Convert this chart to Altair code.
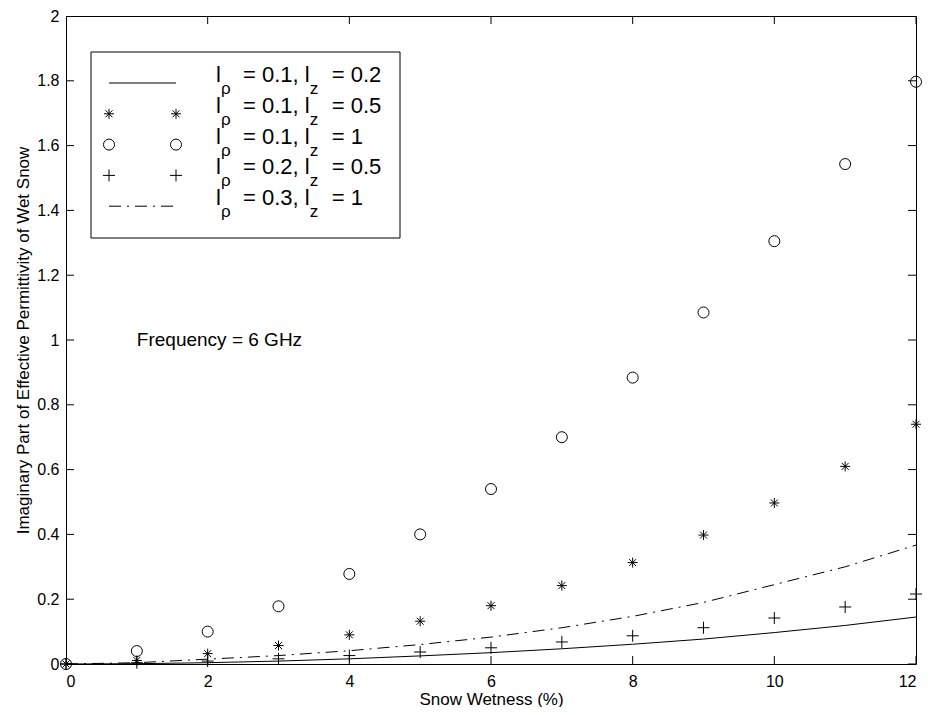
import altair as alt
import pandas as pd

# ---------------- data ----------------
wetness = [0, 1, 2, 3, 4, 5, 6, 7, 8, 9, 10, 11, 12]
eps_rho01_lz02 = [0, 0.001, 0.004, 0.009, 0.016, 0.025, 0.035, 0.047, 0.061, 0.077, 0.097, 0.119, 0.145]
eps_rho01_lz05 = [0, 0.011, 0.032, 0.057, 0.090, 0.132, 0.180, 0.242, 0.313, 0.398, 0.497, 0.610, 0.740]
eps_rho01_lz1 = [0, 0.040, 0.100, 0.178, 0.278, 0.400, 0.540, 0.700, 0.884, 1.085, 1.305, 1.543, 1.797]
eps_rho02_lz05 = [0, 0.004, 0.009, 0.016, 0.026, 0.037, 0.050, 0.068, 0.087, 0.112, 0.142, 0.176, 0.216]
eps_rho03_lz1 = [0, 0.004, 0.015, 0.026, 0.041, 0.060, 0.083, 0.112, 0.147, 0.190, 0.245, 0.300, 0.367]

x_ticks = [0, 2, 4, 6, 8, 10, 12]
y_ticks = [0, 0.2, 0.4, 0.6, 0.8, 1, 1.2, 1.4, 1.6, 1.8, 2]
l_rho = ["0.1", "0.1", "0.1", "0.2", "0.3"]
l_z = ["0.2", "0.5", "1", "0.5", "1"]
annotation = "Frequency = 6 GHz"
annotation_at = (1, 1)
x_title = "Snow Wetness (%)"
y_title = "Imaginary Part of Effective Permittivity of Wet Snow"

# ---------------- style ----------------
FONT = "Liberation Sans"
W, H = 850, 648
TICK_LEN = 8
STAR = "M-1,0L1,0M0,-1L0,1M-0.7,-0.7L0.7,0.7M-0.7,0.7L0.7,-0.7"
PLUS = "M-1,0L1,0M0,-1L0,1"
DASHDOT = [12, 6, 2, 6]

xs = alt.Scale(domain=[0, 12], nice=False, zero=False)
ys = alt.Scale(domain=[0, 2], nice=False, zero=False)
x_axis = alt.Axis(values=x_ticks, title=x_title, grid=False, ticks=False, tickSize=0,
                  domain=False, labelFont=FONT, labelFontSize=16, labelPadding=9,
                  labelColor="black", titleFont=FONT, titleFontSize=17,
                  titleFontWeight="normal", titleColor="black",
                  titleBaseline="alphabetic", titleY=40, titleX=W / 2, titleAlign="center")
y_axis = alt.Axis(values=y_ticks, title=y_title, grid=False, ticks=False, tickSize=0,
                  domain=False, labelFont=FONT, labelFontSize=16, labelPadding=7,
                  labelColor="black", titleFont=FONT, titleFontSize=17,
                  titleFontWeight="normal", titleColor="black",
                  titleBaseline="alphabetic", titleAngle=270, titleX=-38, titleY=H / 2,
                  titleAlign="center", format="~g")

df = pd.DataFrame({
    "x": wetness,
    "a": eps_rho01_lz02,
    "b": eps_rho01_lz05,
    "c": eps_rho01_lz1,
    "d": eps_rho02_lz05,
    "e": eps_rho03_lz1,
})


def X(field="x"):
    return alt.X(f"{field}:Q", scale=xs, axis=x_axis)


def Y(field):
    return alt.Y(f"{field}:Q", scale=ys, axis=y_axis)


base = alt.Chart(df)
line_a = base.mark_line(color="black", strokeWidth=1).encode(x=X(), y=Y("a"))
line_e = base.mark_line(color="black", strokeWidth=1, strokeDash=DASHDOT).encode(x=X(), y=Y("e"))
pts_b = base.mark_point(shape=STAR, size=100, filled=False, stroke="black",
                        strokeWidth=1, opacity=1).encode(x=X(), y=Y("b"))
pts_c = base.mark_point(shape="circle", size=121, filled=False, stroke="black",
                        strokeWidth=1, opacity=1).encode(x=X(), y=Y("c"))
pts_d = base.mark_point(shape=PLUS, size=144, filled=False, stroke="black",
                        strokeWidth=1, opacity=1).encode(x=X(), y=Y("d"))

# inward ticks on all four sides
xt = pd.DataFrame([{"tx": v, "ty": e} for v in x_ticks for e in (0, 2)])
yt = pd.DataFrame([{"tx": e, "ty": v} for v in y_ticks for e in (0, 12)])
ticks_x = alt.Chart(xt).mark_tick(orient="vertical", size=2 * TICK_LEN, thickness=1,
                                  color="black", opacity=1, clip=True).encode(
    x=alt.X("tx:Q", scale=xs, axis=x_axis), y=alt.Y("ty:Q", scale=ys, axis=y_axis))
ticks_y = alt.Chart(yt).mark_tick(orient="horizontal", size=2 * TICK_LEN, thickness=1,
                                  color="black", opacity=1, clip=True).encode(
    x=alt.X("tx:Q", scale=xs, axis=x_axis), y=alt.Y("ty:Q", scale=ys, axis=y_axis))

ann = alt.Chart(pd.DataFrame({"x": [annotation_at[0]], "y": [annotation_at[1]],
                              "t": [annotation]})).mark_text(
    align="left", baseline="middle", font=FONT, fontSize=19, color="black").encode(
    x=X(), y=Y("y"), text="t:N")

data_layers = alt.layer(ticks_x, ticks_y, line_a, line_e, pts_b, pts_c, pts_d, ann)

# ---------------- legend (pixel layout inside the plot area) ----------------
AW = {" ": 278, "=": 584, ".": 278, ",": 278, "l": 222, "z": 500}


def tw(s, fs):
    return sum(AW.get(c, 556) for c in s) * fs / 1000.0


LFS = 22
SFS = 17
GAP = 27
box = dict(x0=25, y0=36, x1=334, y1=222)
row_y0, row_dy = 66, 30.8
samp_x0, samp_x1 = 43, 110
text_x = 150

main_rows, sub_rows = [], []
for i in range(5):
    yb = row_y0 + row_dy * i
    p2 = f"= {l_rho[i]}, l"
    p3 = f"= {l_z[i]}"
    x2 = text_x + GAP
    x2_end = x2 + tw(p2, LFS)
    l2 = x2_end - tw("l", LFS)
    x3 = l2 + GAP
    main_rows += [{"px": text_x, "py": yb, "t": "l"},
                  {"px": x2, "py": yb, "t": p2},
                  {"px": x3, "py": yb, "t": p3}]
    sub_rows += [{"px": text_x + 5, "py": yb + 12, "t": "ρ"},
                 {"px": l2 + 5, "py": yb + 12, "t": "z"}]

PX = lambda f: alt.X(f"{f}:Q", scale=None, axis=None)
PY = lambda f: alt.Y(f"{f}:Q", scale=None, axis=None)

leg_box = alt.Chart(pd.DataFrame([box])).mark_rect(
    fill="white", stroke="black", strokeWidth=1).encode(
    x=PX("x0"), x2="x1:Q", y=PY("y0"), y2="y1:Q")
leg_main = alt.Chart(pd.DataFrame(main_rows)).mark_text(
    align="left", baseline="alphabetic", font=FONT, fontSize=LFS, color="black").encode(
    x=PX("px"), y=PY("py"), text="t:N")
leg_sub = alt.Chart(pd.DataFrame(sub_rows)).mark_text(
    align="left", baseline="alphabetic", font=FONT, fontSize=SFS, color="black").encode(
    x=PX("px"), y=PY("py"), text="t:N")


def samp(i):
    yy = row_y0 + row_dy * i + 1
    return pd.DataFrame({"px": [samp_x0, samp_x1], "py": [yy, yy]})


leg_l0 = alt.Chart(samp(0)).mark_line(color="black", strokeWidth=1).encode(x=PX("px"), y=PY("py"))
leg_l4 = alt.Chart(samp(4)).mark_line(color="black", strokeWidth=1, strokeDash=DASHDOT).encode(
    x=PX("px"), y=PY("py"))
leg_p1 = alt.Chart(samp(1)).mark_point(shape=STAR, size=100, filled=False, stroke="black",
                                       strokeWidth=1, opacity=1).encode(x=PX("px"), y=PY("py"))
leg_p2 = alt.Chart(samp(2)).mark_point(shape="circle", size=121, filled=False, stroke="black",
                                       strokeWidth=1, opacity=1).encode(x=PX("px"), y=PY("py"))
leg_p3 = alt.Chart(samp(3)).mark_point(shape=PLUS, size=144, filled=False, stroke="black",
                                       strokeWidth=1, opacity=1).encode(x=PX("px"), y=PY("py"))

legend_layers = alt.layer(leg_box, leg_l0, leg_p1, leg_p2, leg_p3, leg_l4, leg_main, leg_sub)

chart = alt.layer(data_layers, legend_layers).resolve_scale(
    x="independent", y="independent"
).properties(
    width=W, height=H, autosize="none",
    padding={"left": 58, "top": 8, "right": 8, "bottom": 43},
    background="white",
).configure_view(stroke="black", strokeWidth=1)

chart.save("out.html", embed_options={"renderer": "svg", "actions": False})
